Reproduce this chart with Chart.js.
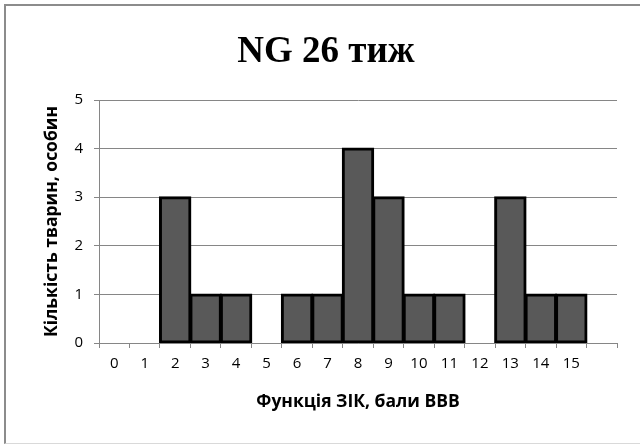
<!DOCTYPE html>
<html lang="uk">
<head>
  <meta charset="UTF-8" />
  <title>NG 26 тиж</title>
  <script src="https://cdn.jsdelivr.net/npm/chart.js"></script>
  <style>
    html, body { margin: 0; padding: 0; background: #fff; overflow: hidden; }
    #wrap { position: relative; width: 640px; height: 444px; overflow: hidden; }
    /* chart frame: only top/left edges and a faint bottom edge are visible */
    #frame {
      position: absolute; left: 4px; top: 4px; width: 1000px; height: 437px;
      border-left: 2px solid #8c8c8c; border-top: 2px solid #8c8c8c;
      border-bottom: 1px solid #d9d9d9;
    }
    canvas { position: absolute; left: 0; top: 0; }
  </style>
</head>
<body>
<div id="wrap">
  <div id="frame"></div>
  <canvas id="chart" width="640" height="444"></canvas>
</div>

<script>
  // data
  const scores = ['0', '1', '2', '3', '4', '5', '6', '7', '8', '9', '10', '11', '12', '13', '14', '15', ''];
  const animals = [0, 0, 3, 1, 1, 0, 1, 1, 4, 3, 1, 1, 0, 3, 1, 1, null];
  const yTicks = [0, 1, 2, 3, 4, 5];

  const axisGray = '#868686';
  const labelFont = "'Open Sans', sans-serif";

  new Chart(document.getElementById('chart'), {
    type: 'bar',
    data: {
      labels: scores,
      datasets: [{
        data: animals,
        backgroundColor: '#595959',
        borderColor: '#000',
        borderWidth: 3,
        borderSkipped: false,
        inflateAmount: 1,
        barPercentage: 1,
        categoryPercentage: 1
      }]
    },
    options: {
      responsive: false,
      animation: false,
      layout: { padding: { left: 35, right: 23, top: 0, bottom: 0 } },
      plugins: {
        legend: { display: false },
        tooltip: { enabled: false },
        title: {
          display: true,
          text: 'NG 26 тиж',
          color: '#000',
          font: { family: "'Liberation Serif', serif", size: 37, weight: 'bold' },
          padding: { top: 30, bottom: 25.6 }
        }
      },
      scales: {
        x: {
          grid: { display: true, drawOnChartArea: false, color: axisGray, tickLength: 5 },
          border: { color: axisGray, width: 1 },
          ticks: { color: '#000', font: { family: labelFont, size: 15 }, padding: 7, maxRotation: 0, autoSkip: false },
          title: {
            display: true,
            text: 'Функція ЗІК, бали ВВВ',
            color: '#000',
            font: { family: labelFont, size: 17.5, weight: 'bold' },
            padding: { top: 0, bottom: 31.5 }
          },
          afterFit: s => { s.height = 101; }
        },
        y: {
          min: yTicks[0],
          max: yTicks[yTicks.length - 1],
          grid: { color: axisGray, tickLength: 5 },
          border: { color: axisGray, width: 1 },
          ticks: {
            stepSize: 1, color: '#000', padding: 11,
            font: { family: labelFont, size: 15 }
          },
          afterBuildTicks: s => { s.ticks = yTicks.map(v => ({ value: v })); },
          title: {
            display: true,
            text: 'Кількість тварин, особин',
            color: '#000',
            font: { family: labelFont, size: 17.5, weight: 'bold' },
            padding: { top: 6.5, bottom: 0 }
          },
          afterFit: s => { s.width = 64; }
        }
      }
    }
  });
</script>
</body>
</html>
